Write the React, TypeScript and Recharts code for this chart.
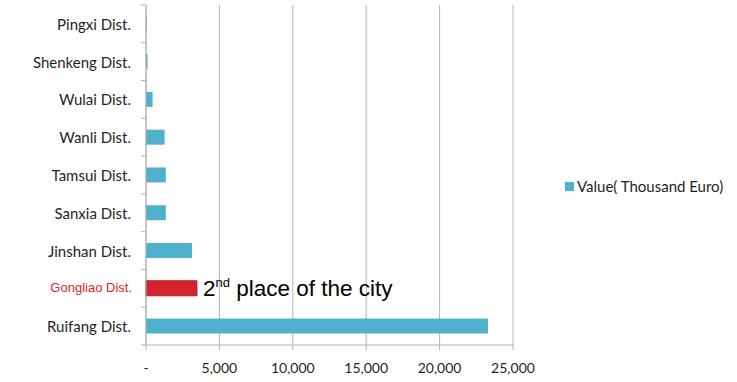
import React from 'react';
import { BarChart, Bar, XAxis, YAxis, CartesianGrid, Cell } from 'recharts';

const categories = ['Pingxi Dist.', 'Shenkeng Dist.', 'Wulai Dist.', 'Wanli Dist.', 'Tamsui Dist.', 'Sanxia Dist.', 'Jinshan Dist.', 'Gongliao Dist.', 'Ruifang Dist.'];
const values = [60, 110, 450, 1270, 1350, 1350, 3130, 3470, 23300];
const xTicks = [0, 5000, 10000, 15000, 20000, 25000];
const highlight = 'Gongliao Dist.';
const seriesName = 'Value( Thousand Euro)';
const annotation = { main: '2', sup: 'nd', rest: ' place of the city' };

const data = categories.map((c, i) => ({ name: c, value: values[i] }));

const W = 737;
const H = 382;
const M = { top: 5, right: 224, bottom: 7, left: 0 };
const XH = 30;
const YW = 146;
const BAND = (H - M.top - M.bottom - XH) / categories.length;

const BLUE = '#4fb1cc';
const RED = '#d3242d';
const GRID = '#b3b3b3';

const YTick = (props: any) => {
  const { x, y, payload, index } = props;
  const ax = x + 15;
  const isHi = payload.value === highlight;
  return (
    <g>
      <line x1={ax - 5} x2={ax} y1={y - BAND / 2} y2={y - BAND / 2} stroke={GRID} />
      {index === categories.length - 1 && (
        <line x1={ax - 5} x2={ax} y1={y + BAND / 2} y2={y + BAND / 2} stroke={GRID} />
      )}
      <text
        x={isHi ? x + 1 : x}
        y={y}
        dy={isHi ? 4 : 6}
        textAnchor="end"
        fill={isHi ? '#e0242c' : '#1f1f1f'}
        fontSize={isHi ? 13 : 15}
        fontFamily={isHi ? 'Liberation Sans, Arial, sans-serif' : 'Lato, sans-serif'}
      >
        {payload.value}
      </text>
    </g>
  );
};

const renderLabel = (props: any) => {
  const { x, y, width, height, index } = props;
  if (categories[index] !== highlight) return null;
  return (
    <text
      x={x + width + 6}
      y={y + height / 2 + 8}
      fontSize={22.5}
      fontFamily="Liberation Sans, Arial, sans-serif"
      fill="#000"
    >
      {annotation.main}
      <tspan fontSize={13} dy={-9}>{annotation.sup}</tspan>
      <tspan dy={9}>{annotation.rest}</tspan>
    </text>
  );
};

export default function App() {
  return (
    <div style={{ position: 'absolute', left: 0, top: 0, width: W, height: H, background: '#fff' }}>
      <BarChart width={W} height={H} data={data} layout="vertical" margin={M} barCategoryGap="30%">
        <CartesianGrid horizontal={false} vertical stroke={GRID} />
        <XAxis
          type="number"
          domain={[0, 25000]}
          ticks={xTicks}
          height={XH}
          stroke={GRID}
          tickSize={5}
          tickMargin={13}
          tick={{ fill: '#1f1f1f', fontSize: 14, fontFamily: 'Lato, sans-serif' }}
          tickFormatter={(v: number) => (v === 0 ? '-' : v.toLocaleString('en-US'))}
          interval={0}
        />
        <YAxis
          type="category"
          dataKey="name"
          width={YW}
          stroke={GRID}
          tickLine={false}
          tickSize={0}
          tickMargin={15}
          tick={<YTick />}
          interval={0}
        />
        <Bar dataKey="value" name={seriesName} isAnimationActive={false} label={renderLabel}>
          {data.map((d, i) => (
            <Cell key={i} fill={d.name === highlight ? RED : BLUE} stroke={d.name === highlight ? '#b51d25' : 'none'} />
          ))}
        </Bar>
      </BarChart>
      <div
        style={{
          position: 'absolute',
          left: 565,
          top: 177,
          display: 'flex',
          alignItems: 'center',
          fontFamily: 'Lato, sans-serif',
          fontSize: 15,
          color: '#1f1f1f',
          whiteSpace: 'nowrap',
        }}
      >
        <span style={{ display: 'inline-block', width: 9, height: 9, background: BLUE, marginRight: 3 }} />
        <span>{seriesName}</span>
      </div>
    </div>
  );
}
